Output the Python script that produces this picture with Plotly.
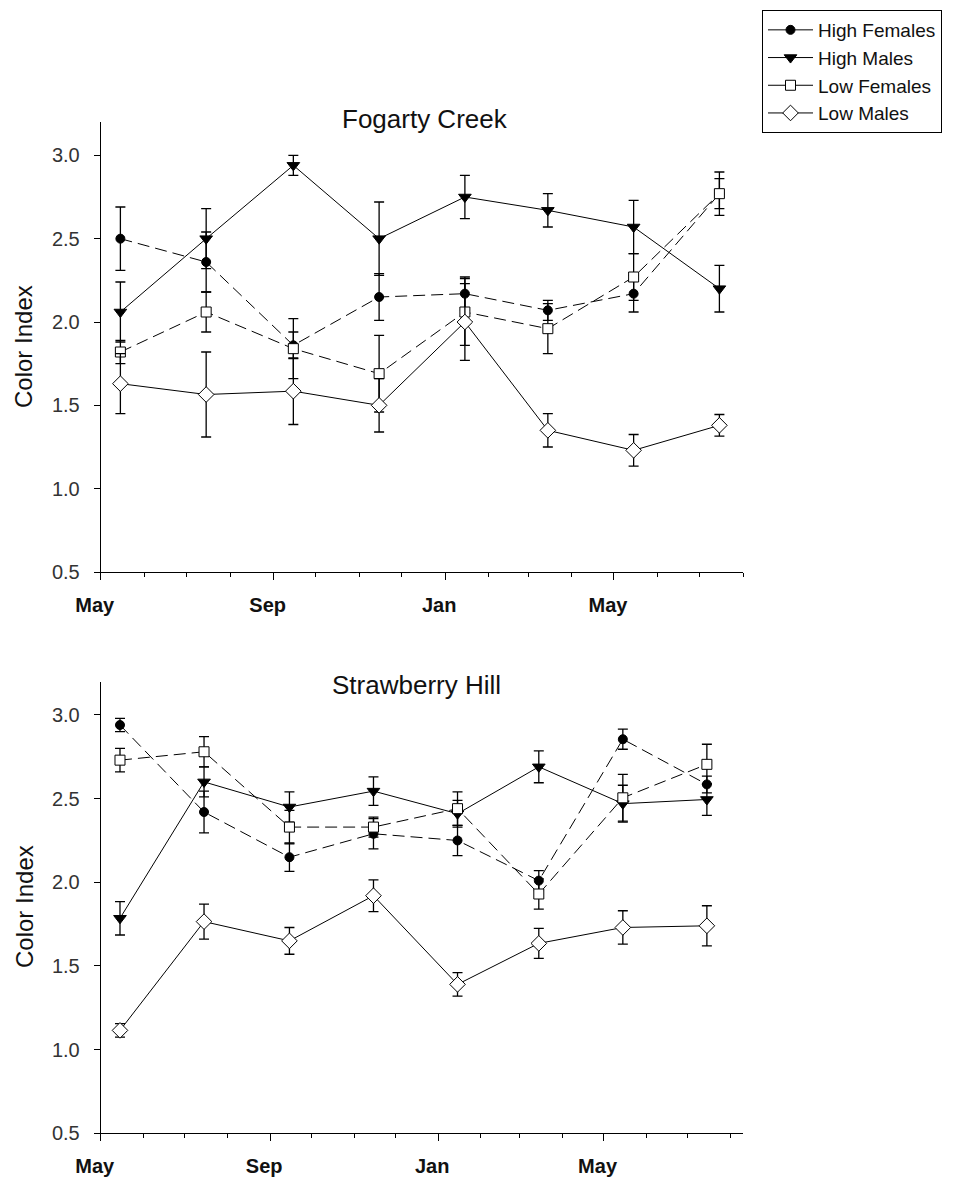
import plotly.graph_objects as go

# Sampling dates (every two months, mid-month)
dates = ["2001-05-15", "2001-07-15", "2001-09-15", "2001-11-15",
         "2002-01-15", "2002-03-15", "2002-05-15", "2002-07-15"]

# Fogarty Creek: means and standard errors
fc_high_f = [2.50, 2.36, 1.86, 2.15, 2.17, 2.07, 2.17, 2.77]
fc_high_f_se = [0.19, 0.18, 0.08, 0.14, 0.10, 0.06, 0.11, 0.09]
fc_high_m = [2.06, 2.50, 2.94, 2.50, 2.75, 2.67, 2.57, 2.20]
fc_high_m_se = [0.18, 0.18, 0.06, 0.22, 0.13, 0.10, 0.16, 0.14]
fc_low_f = [1.82, 2.06, 1.84, 1.69, 2.06, 1.96, 2.27, 2.77]
fc_low_f_se = [0.07, 0.12, 0.18, 0.23, 0.20, 0.15, 0.14, 0.13]
fc_low_m = [1.63, 1.565, 1.585, 1.50, 2.00, 1.35, 1.23, 1.38]
fc_low_m_se = [0.18, 0.255, 0.20, 0.16, 0.23, 0.10, 0.095, 0.065]

# Strawberry Hill: means and standard errors
sh_high_f = [2.94, 2.42, 2.15, 2.29, 2.25, 2.01, 2.855, 2.585]
sh_high_f_se = [0.04, 0.125, 0.085, 0.09, 0.09, 0.06, 0.06, 0.05]
sh_high_m = [1.785, 2.60, 2.45, 2.545, 2.41, 2.69, 2.47, 2.495]
sh_high_m_se = [0.10, 0.09, 0.09, 0.085, 0.08, 0.095, 0.11, 0.095]
sh_low_f = [2.73, 2.78, 2.33, 2.33, 2.44, 1.93, 2.505, 2.705]
sh_low_f_se = [0.07, 0.09, 0.10, 0.06, 0.10, 0.09, 0.14, 0.12]
sh_low_m = [1.115, 1.765, 1.65, 1.92, 1.39, 1.635, 1.73, 1.74]
sh_low_m_se = [0.04, 0.105, 0.08, 0.095, 0.07, 0.09, 0.10, 0.12]

group_names = ["High Females", "High Males", "Low Females", "Low Males"]
panel_titles = ["Fogarty Creek", "Strawberry Hill"]
y_title = "Color Index"

W, H = 974, 1180
FONT = "Arial, Liberation Sans, sans-serif"

styles = [
    dict(marker=dict(symbol="circle", size=9, color="black",
                     line=dict(color="black", width=1)), dash="12px,6px"),
    dict(marker=dict(symbol="triangle-down", size=11, color="black",
                     line=dict(color="black", width=1)), dash="solid"),
    dict(marker=dict(symbol="square", size=10, color="white",
                     line=dict(color="black", width=1)), dash="12px,6px"),
    dict(marker=dict(symbol="diamond", size=12, color="white",
                     line=dict(color="black", width=1)), dash="solid"),
]

panels = [
    ("x", "y", [(fc_high_f, fc_high_f_se), (fc_high_m, fc_high_m_se),
                (fc_low_f, fc_low_f_se), (fc_low_m, fc_low_m_se)]),
    ("x2", "y2", [(sh_high_f, sh_high_f_se), (sh_high_m, sh_high_m_se),
                  (sh_low_f, sh_low_f_se), (sh_low_m, sh_low_m_se)]),
]

fig = go.Figure()
for xa, ya, series in panels:
    for (vals, se), st in zip(series, styles):
        fig.add_trace(go.Scatter(
            x=dates, y=vals, xaxis=xa, yaxis=ya,
            mode="lines+markers",
            line=dict(color="black", width=1, dash=st["dash"]),
            marker=st["marker"],
            error_y=dict(type="data", array=se, visible=True,
                         color="black", thickness=1.3, width=5),
            showlegend=False, cliponaxis=False,
        ))

# Legend entries (solid connector in the key)
for name, st in zip(group_names, styles):
    fig.add_trace(go.Scatter(
        x=[None], y=[None], mode="lines+markers", name=name,
        line=dict(color="black", width=1), marker=st["marker"],
    ))


def xaxis_cfg(domain, end):
    return dict(
        domain=domain, type="date", range=["2001-05-01", end],
        automargin=False,
        tickmode="linear", tick0="2001-05-01", dtick="M4",
        tickformat="%b", ticks="outside", ticklen=7, tickwidth=1,
        tickcolor="black", showline=True, linecolor="black", linewidth=1,
        showgrid=False, zeroline=False,
        tickfont=dict(family=FONT, size=20, color="#111", weight="bold"),
        ticklabelshift=-6, ticklabelstandoff=8,
        minor=dict(dtick="M1", tick0="2001-05-01", ticks="outside",
                   ticklen=4, tickcolor="black", tickwidth=1, showgrid=False),
    )


def yaxis_cfg(domain):
    return dict(
        domain=domain, range=[0.5, 3.2], tickmode="linear", tick0=0.5,
        automargin=False,
        dtick=0.5, tickformat=".1f", ticks="outside", ticklen=6,
        tickwidth=1, tickcolor="black", showline=True, linecolor="black",
        linewidth=1, showgrid=False, zeroline=False,
        tickfont=dict(family=FONT, size=20, color="#333"),
        ticklabelstandoff=10,
    )


fig.update_layout(
    width=W, height=H, margin=dict(l=0, r=0, t=0, b=0, autoexpand=False),
    paper_bgcolor="white", plot_bgcolor="white",
    xaxis=dict(xaxis_cfg([100.7 / W, 743.3 / W], "2002-08-01"), anchor="y"),
    yaxis=dict(yaxis_cfg([1 - 572 / H, 1 - 122 / H]), anchor="x"),
    xaxis2=dict(xaxis_cfg([100.7 / W, 742.7 / W], "2002-08-10"), anchor="y2"),
    yaxis2=dict(yaxis_cfg([1 - 1133.3 / H, 1 - 681.5 / H]), anchor="x2"),
    legend=dict(
        x=762 / W, y=1 - 10 / H, xanchor="left", yanchor="top",
        bordercolor="black", borderwidth=1, bgcolor="white",
        font=dict(family=FONT, size=19, color="#111"),
        itemwidth=45, tracegroupgap=0,
    ),
    showlegend=True,
)

# Panel titles and y-axis titles
for title, cx, cy, ycenter in [(panel_titles[0], 425, 119, 347),
                               (panel_titles[1], 416, 685, 907)]:
    fig.add_annotation(text=title, x=cx / W, y=1 - cy / H, xref="paper",
                       yref="paper", xanchor="center", yanchor="middle",
                       showarrow=False,
                       font=dict(family=FONT, size=26, color="#111"))
    fig.add_annotation(text=y_title, x=24 / W, y=1 - ycenter / H,
                       xref="paper", yref="paper", xanchor="center",
                       yanchor="middle", textangle=-90, showarrow=False,
                       font=dict(family=FONT, size=24, color="#111"))

fig.write_html("out.html")
